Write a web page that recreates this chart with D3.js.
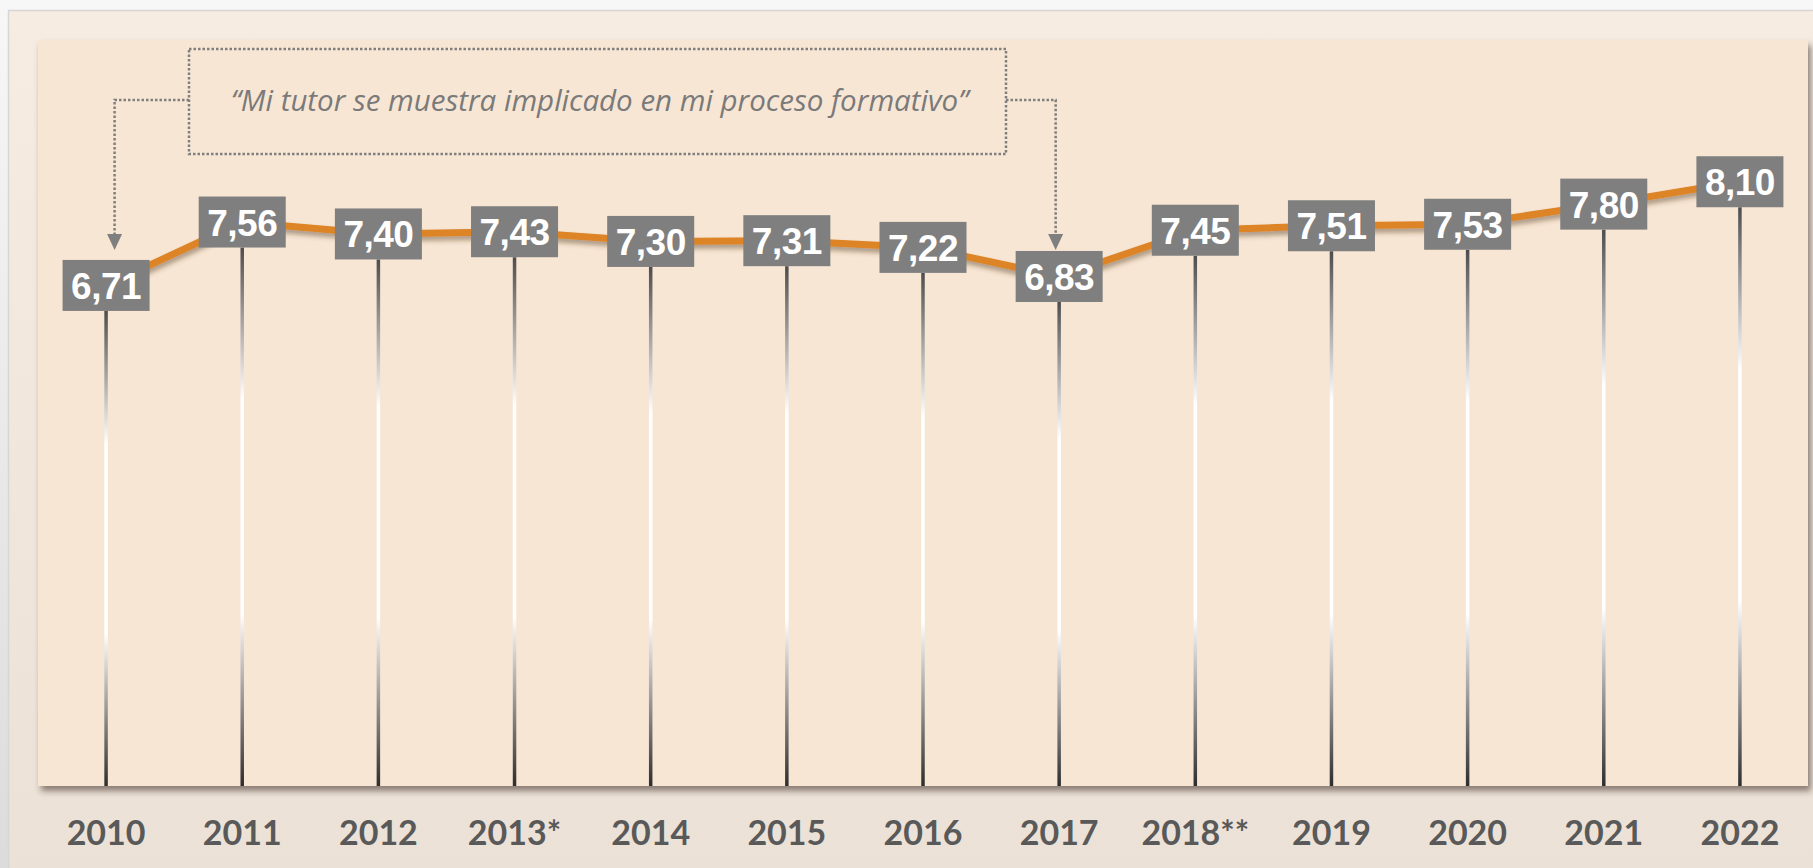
<!DOCTYPE html>
<html>
<head>
<meta charset="utf-8">
<script src="https://cdn.jsdelivr.net/npm/d3@7"></script>
<style>
  html, body { margin: 0; padding: 0; }
  body { width: 1813px; height: 868px; overflow: hidden; background: #f5f5f5; }
  svg { display: block; }
</style>
</head>
<body>
<svg id="chart" width="1813" height="868"></svg>
<script>
// data
const years = ["2010", "2011", "2012", "2013*", "2014", "2015", "2016", "2017", "2018**", "2019", "2020", "2021", "2022"];
const scores = [6.71, 7.56, 7.40, 7.43, 7.30, 7.31, 7.22, 6.83, 7.45, 7.51, 7.53, 7.80, 8.10];
const quote = "“Mi tutor se muestra implicado en mi proceso formativo”";
const pointedYears = ["2010", "2017"];

const W = 1813, H = 868;
const plot = { left: 38, top: 40, right: 1808, bottom: 786 };

const fmt = v => d3.format(".2f")(v).replace(".", ",");

const x = d3.scalePoint()
    .domain(years)
    .range([plot.left, plot.right])
    .padding(0.5);

const y = d3.scaleLinear()
    .domain([0, 10])
    .range([plot.bottom, plot.top]);

const data = years.map((yr, i) => ({ year: yr, value: scores[i] }));

const svg = d3.select("#chart");
const defs = svg.append("defs");

// page background
const pageGrad = defs.append("linearGradient").attr("id", "page").attr("x1", 0).attr("y1", 0).attr("x2", 0).attr("y2", 1);
pageGrad.append("stop").attr("offset", 0).attr("stop-color", "#f7f7f7");
pageGrad.append("stop").attr("offset", 1).attr("stop-color", "#dcdcdc");

const panelGrad = defs.append("linearGradient").attr("id", "panel").attr("x1", 0).attr("y1", 0).attr("x2", 0).attr("y2", 1);
panelGrad.append("stop").attr("offset", 0).attr("stop-color", "#f6ece2");
panelGrad.append("stop").attr("offset", 1).attr("stop-color", "#ebe1d6");

// stems: dark - white - dark
const stemGrad = defs.append("linearGradient").attr("id", "stem").attr("x1", 0).attr("y1", 0).attr("x2", 0).attr("y2", 1);
[[0, "#4d4d4d"], [0.28, "#ffffff"], [0.68, "#ffffff"], [1, "#2e2e2e"]].forEach(s => {
    stemGrad.append("stop").attr("offset", s[0]).attr("stop-color", s[1]);
});

const plotShadow = defs.append("filter").attr("id", "plotShadow")
    .attr("x", "-2%").attr("y", "-2%").attr("width", "104%").attr("height", "106%");
plotShadow.append("feDropShadow").attr("dx", 3).attr("dy", 5).attr("stdDeviation", 3)
    .attr("flood-color", "#3a2a1a").attr("flood-opacity", 0.55);

const lineShadow = defs.append("filter").attr("id", "lineShadow")
    .attr("x", "-5%").attr("y", "-20%").attr("width", "110%").attr("height", "160%");
lineShadow.append("feDropShadow").attr("dx", 1).attr("dy", 4).attr("stdDeviation", 2.5)
    .attr("flood-color", "#4a3018").attr("flood-opacity", 0.45);

svg.append("rect").attr("width", W).attr("height", H).attr("fill", "url(#page)");
svg.append("rect")
    .attr("x", 8.5).attr("y", 10.5).attr("width", W).attr("height", H)
    .attr("fill", "url(#panel)")
    .attr("stroke", "#d6d6d6").attr("stroke-width", 1.5);

// plot area
svg.append("rect")
    .attr("x", plot.left).attr("y", plot.top)
    .attr("width", plot.right - plot.left).attr("height", plot.bottom - plot.top)
    .attr("fill", "#f8e6d4")
    .attr("filter", "url(#plotShadow)");

const boxH = 51;

// vertical stems from each label down to the base
svg.append("g").selectAll("rect")
    .data(data)
    .join("rect")
    .attr("x", d => x(d.year) - 1.75)
    .attr("width", 3.5)
    .attr("y", d => y(d.value) + boxH / 2)
    .attr("height", d => plot.bottom - (y(d.value) + boxH / 2))
    .attr("fill", "url(#stem)");

// orange line
svg.append("path")
    .datum(data)
    .attr("fill", "none")
    .attr("stroke", "#dc8427")
    .attr("stroke-width", 7)
    .attr("stroke-linejoin", "round")
    .attr("filter", "url(#lineShadow)")
    .attr("d", d3.line().x(d => x(d.year)).y(d => y(d.value)));

// value labels
const labels = svg.append("g").selectAll("g")
    .data(data)
    .join("g")
    .attr("transform", d => `translate(${x(d.year)},${y(d.value)})`);

const boxRects = labels.append("rect").attr("fill", "#7f7f7f");

const labelTexts = labels.append("text")
    .attr("text-anchor", "middle")
    .attr("y", 13.5)
    .attr("fill", "#ffffff")
    .attr("font-family", "'Liberation Sans', Arial, sans-serif")
    .attr("font-weight", "bold")
    .attr("font-size", 37)
    .attr("letter-spacing", -0.5)
    .text(d => fmt(d.value));

labelTexts.each(function (d, i) {
    const w = this.getComputedTextLength() + 17;
    d3.select(boxRects.nodes()[i])
        .attr("x", -w / 2).attr("y", -boxH / 2)
        .attr("width", w).attr("height", boxH);
});

// x axis labels
svg.append("g").selectAll("text")
    .data(years)
    .join("text")
    .attr("x", d => x(d))
    .attr("y", 845)
    .attr("text-anchor", "middle")
    .attr("fill", "#595959")
    .attr("font-family", "Lato, 'Open Sans', sans-serif")
    .attr("font-weight", "bold")
    .attr("font-size", 34)
    .text(d => d);

// quote annotation
const note = svg.append("g")
    .attr("fill", "none")
    .attr("stroke", "#7f7f7f")
    .attr("stroke-width", 2.5)
    .attr("stroke-dasharray", "2.5 2");

const noteBox = { left: 189, top: 49, right: 1006, bottom: 154 };
const noteY = 100;
const tipY = 250;
const arrowX = [x(pointedYears[0]) + 8.5, x(pointedYears[1]) - 3.5];

note.append("rect")
    .attr("x", noteBox.left).attr("y", noteBox.top)
    .attr("width", noteBox.right - noteBox.left).attr("height", noteBox.bottom - noteBox.top);

note.append("path")
    .attr("d", `M${noteBox.left},${noteY}H${arrowX[0]}V${tipY - 15}`);
note.append("path")
    .attr("d", `M${noteBox.right},${noteY}H${arrowX[1]}V${tipY - 15}`);

svg.append("g").selectAll("path")
    .data(arrowX)
    .join("path")
    .attr("fill", "#7f7f7f")
    .attr("d", ax => `M${ax - 7.5},${tipY - 16}L${ax + 7.5},${tipY - 16}L${ax},${tipY}Z`);

svg.append("text")
    .attr("x", (noteBox.left + noteBox.right) / 2 + 2)
    .attr("y", 111)
    .attr("text-anchor", "middle")
    .attr("fill", "#7a7a7a")
    .attr("font-family", "'Open Sans', Lato, sans-serif")
    .attr("font-style", "italic")
    .attr("font-size", 29.5)
    .text(quote);
</script>
</body>
</html>
